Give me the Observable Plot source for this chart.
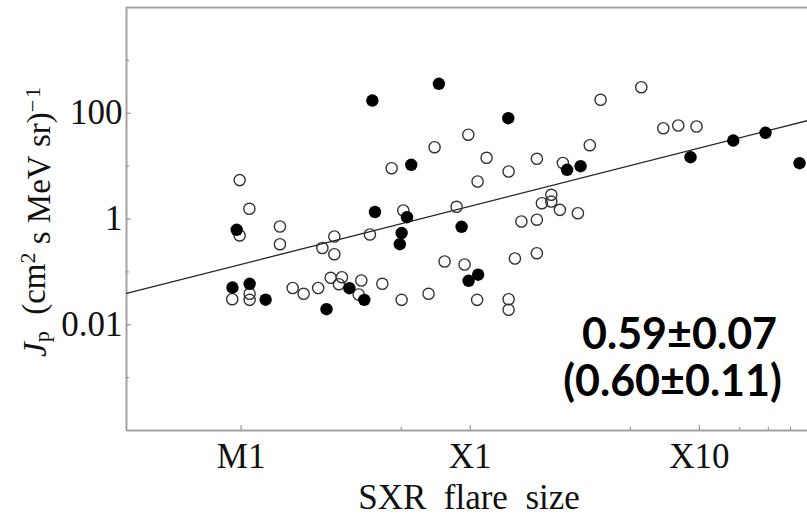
<!DOCTYPE html>
<html><head><meta charset="utf-8">
<script src="https://cdn.jsdelivr.net/npm/d3@7"></script>
<script src="https://cdn.jsdelivr.net/npm/@observablehq/plot@0.6"></script>
<style>html,body{margin:0;padding:0;background:#fff}#chart svg{display:block}</style>
</head><body><div id="chart"></div>
<script>
// SXR flare size in units of X1 (1e-4 W m^-2); Jp in (cm^2 s MeV sr)^-1
const fluxFilled = [0.374, 0.730, 1.466, 0.553, 0.0957, 0.384, 0.530, 0.502, 0.493, 0.917, 2.647, 3.031, 9.15, 14.06, 19.45, 27.37, 0.0917, 0.109, 0.128, 0.236, 0.297, 0.345, 0.984, 1.083];
const jpFilled   = [174, 361, 80.6, 10.6, 0.625, 1.356, 1.08, 0.543, 0.334, 0.712, 8.52, 9.97, 14.75, 30.5, 42.7, 11.36, 0.0506, 0.0595, 0.0298, 0.0197, 0.0491, 0.0296, 0.0678, 0.0884];
const fluxOpen = [0.0986, 0.1087, 0.0986, 0.1478, 0.1478, 0.2263, 0.2553, 0.2553, 0.365, 0.5106, 0.872, 0.773, 0.945, 1.072, 0.0915, 0.109, 0.109, 0.168, 0.1875, 0.217, 0.246, 0.2755, 0.2674, 0.3348, 0.326, 0.4135, 0.502, 0.658, 0.454, 0.699, 0.981, 1.179, 1.077, 1.471, 1.954, 2.538, 3.325, 3.707, 5.58, 6.96, 8.09, 9.72, 2.259, 2.055, 2.259, 2.463, 2.951, 1.673, 1.954, 1.567, 1.954, 1.471, 1.471];
const jpOpen   = [5.44, 1.56, 0.488, 0.721, 0.334, 0.283, 0.467, 0.216, 0.509, 1.448, 1.70, 0.157, 0.138, 0.0296, 0.0304, 0.0385, 0.0296, 0.0495, 0.0385, 0.0495, 0.0772, 0.0793, 0.0585, 0.0687, 0.0373, 0.0595, 0.0296, 0.0385, 9.14, 22.8, 39.3, 14.37, 5.12, 7.91, 13.75, 11.46, 24.9, 179.7, 311, 52.2, 58.7, 56.2, 2.87, 1.99, 2.14, 1.49, 1.287, 0.897, 0.97, 0.179, 0.2255, 0.0304, 0.0192];
// power-law fit: log10(Jp) = fitIntercept + fitSlope * log10(flux / X1)
const fitIntercept = 0.242;
const fitSlope = 1.10;
// axis ticks
const xTickValues = [0.1, 1, 10];
const xTickLabels = ["M1", "X1", "X10"];
const xMinorTicks = [0.5, 5, 15, 20, 25];
const yTickValues = [100, 1, 0.01];
const yTickLabels = ["100", "1", "0.01"];
const yMinorTicks = [1000, 10, 0.1, 0.001];
const annotLines = ["0.59±0.07", "(0.60±0.11)"];

const W = 807, H = 516, mT = 7, mB = 86, mL = 126, mR = 0;
const fh = H - mT - mB, fw = W - mL - mR;
const xDomain = [10 ** -1.5, 10 ** 1.472];
const yDomain = [1e-4, 1e4];

const filled = fluxFilled.map((f, i) => ({f, jp: jpFilled[i]}));
const open = fluxOpen.map((f, i) => ({f, jp: jpOpen[i]}));
const fit = xDomain.map(f => ({f, jp: 10 ** (fitIntercept + fitSlope * Math.log10(f))}));
const xt = xTickValues.map((v, i) => ({v, t: xTickLabels[i]}));
const yt = yTickValues.map((v, i) => ({v, t: yTickLabels[i]}));
const frameColor = "#a3a3a3";

const plot = Plot.plot({
  width: W, height: H,
  marginTop: mT, marginBottom: mB, marginLeft: mL, marginRight: mR,
  style: {fontFamily: "'Liberation Serif', serif", background: "#fff"},
  x: {type: "log", domain: xDomain, axis: null},
  y: {type: "log", domain: yDomain, axis: null},
  marks: [
    Plot.ruleY([yDomain[1]], {stroke: frameColor, strokeWidth: 2}),
    Plot.ruleY([yDomain[0]], {stroke: frameColor, strokeWidth: 2}),
    Plot.ruleX([xDomain[0]], {stroke: frameColor, strokeWidth: 2}),
    Plot.tickX(xTickValues, {x: d => d, stroke: "#888", strokeWidth: 1, insetTop: fh - 5}),
    Plot.tickX(xMinorTicks, {x: d => d, stroke: "#888", strokeWidth: 1, insetTop: fh - 3}),
    Plot.tickY(yTickValues, {y: d => d, stroke: "#888", strokeWidth: 1, insetRight: fw - 5}),
    Plot.tickY(yMinorTicks, {y: d => d, stroke: "#888", strokeWidth: 1, insetRight: fw - 3}),
    Plot.text(xt, {x: "v", text: "t", frameAnchor: "bottom", lineAnchor: "bottom", dy: 37, fontSize: 35, fill: "#111"}),
    Plot.text(yt, {y: "v", text: "t", frameAnchor: "left", textAnchor: "end", lineAnchor: "middle", dx: -4, fontSize: 35, fill: "#111"}),
    Plot.text(["SXR\u00a0\u00a0flare\u00a0\u00a0size"], {frameAnchor: "bottom", lineAnchor: "bottom", dx: 2, dy: 78, fontSize: 35, fill: "#111"}),
    Plot.line(fit, {x: "f", y: "jp", stroke: "#222", strokeWidth: 1.3}),
    Plot.dot(open, {x: "f", y: "jp", r: 5.6, fill: "none", stroke: "#333", strokeWidth: 1.4}),
    Plot.dot(filled, {x: "f", y: "jp", r: 6.2, fill: "#000", stroke: "none"}),
    Plot.text([annotLines[0]], {frameAnchor: "bottom-right", textAnchor: "middle", lineAnchor: "bottom", dx: -128, dy: -82, fontSize: 43, fontWeight: "bold", fontFamily: "Lato, 'Open Sans', sans-serif", fill: "#000"}),
    Plot.text([annotLines[1]], {frameAnchor: "bottom-right", textAnchor: "middle", lineAnchor: "bottom", dx: -135, dy: -35, fontSize: 43, fontWeight: "bold", fontFamily: "Lato, 'Open Sans', sans-serif", fill: "#000"})
  ]
});

// rich y-axis label (italic J, subscript p, superscripts)
const lab = d3.select(plot).append("text")
  .attr("transform", "translate(46,222) rotate(-90)")
  .attr("text-anchor", "middle")
  .attr("fill", "#111")
  .style("font-family", "'Liberation Serif', serif")
  .style("font-size", "33px");
lab.append("tspan").attr("font-style", "italic").text("J");
lab.append("tspan").attr("dy", "0.12em").attr("font-size", "22px").text("p");
lab.append("tspan").attr("dy", "-0.12em").text("\u00a0\u00a0(cm");
lab.append("tspan").attr("dy", "-0.45em").attr("font-size", "22px").text("2");
lab.append("tspan").attr("dy", "0.45em").text("\u00a0s\u00a0MeV\u00a0sr)");
lab.append("tspan").attr("dy", "-0.45em").attr("font-size", "22px").text("\u2212\u200a1");

document.getElementById("chart").appendChild(plot);
</script></body></html>
